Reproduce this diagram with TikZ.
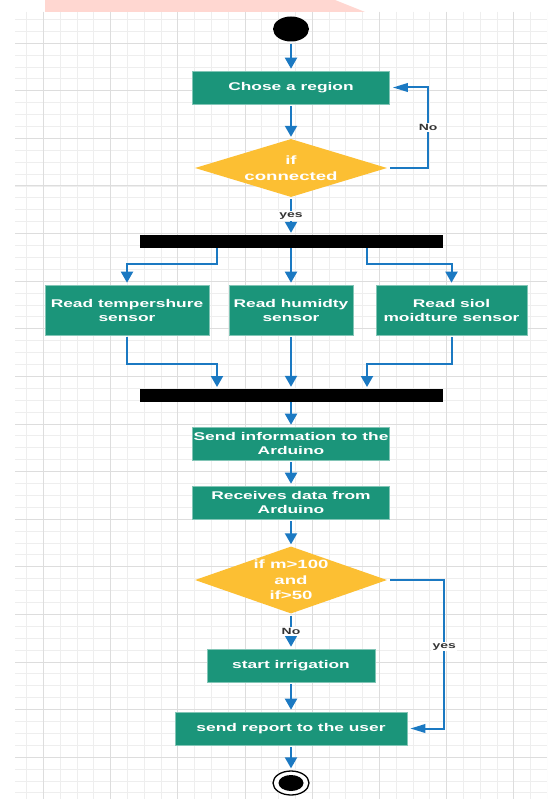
\documentclass[tikz,border=0pt]{standalone}
\usepackage{fontspec}
\newfontfamily\boxfont{Liberation Sans}[FakeStretch=1.55]
\usetikzlibrary{shapes.geometric,arrows.meta}
\definecolor{boxgreen}{HTML}{1B957A}
\definecolor{decyellow}{HTML}{FCBF33}
\definecolor{flowblue}{HTML}{1B79C2}
\definecolor{gridminor}{HTML}{EEEEEE}
\definecolor{gridmajor}{HTML}{DDDDDD}
\definecolor{pinkband}{HTML}{FFD7D1}
\definecolor{labelgray}{HTML}{333333}
\begin{document}
\begin{tikzpicture}[x=1pt,y=-1pt,
  actbox/.style={rectangle, fill=boxgreen, draw=boxgreen!55!white, line width=0.6pt,
    text=white, align=center, font=\boxfont\bfseries\fontsize{11.2}{14}\selectfont,
    inner sep=0pt, minimum height=33pt},
  decision/.style={diamond, fill=decyellow, text=white, align=center,
    font=\boxfont\bfseries\fontsize{12}{15.5}\selectfont, inner sep=0pt},
  syncbar/.style={rectangle, fill=black, minimum width=303pt, minimum height=13pt, inner sep=0pt},
  vflow/.style={draw=flowblue, line width=2pt, -{Triangle[width=12pt,length=11pt]},
    shorten >=2pt, shorten <=2pt},
  hflow/.style={draw=flowblue, line width=2pt, -{Triangle[width=8.5pt,length=15pt]},
    shorten >=3pt, shorten <=3pt},
  lbl/.style={fill=white, text=labelgray, font=\boxfont\bfseries\fontsize{9}{10}\selectfont, inner sep=1.2pt}
]
\useasboundingbox (0,0) rectangle (547,799);
\fill[white] (0,0) rectangle (547,799);
% pink band
\fill[pinkband] (45,0) -- (335,0) -- (365,12) -- (45,12) -- cycle;
% grid
\begin{scope}
  \clip (15,12) rectangle (547,799);
  \foreach \k in {0,...,32} \draw[gridminor, line width=0.9pt] ({9.9+16.8*\k},12) -- ({9.9+16.8*\k},799);
  \foreach \k in {0,...,66} \draw[gridminor, line width=0.9pt] (15,{7.5+11.9*\k}) -- (547,{7.5+11.9*\k});
  \foreach \k in {-1,...,8} \draw[gridmajor, line width=1pt] ({43.5+67.2*\k},12) -- ({43.5+67.2*\k},799);
  \foreach \k in {0,...,16} \draw[gridmajor, line width=1pt] (15,{43.2+47.6*\k}) -- (547,{43.2+47.6*\k});
\end{scope}

% nodes
\node[ellipse, fill=black, minimum width=36pt, minimum height=25pt, inner sep=0pt] (start) at (291,29) {};
\node[actbox, minimum width=197pt] (chose) at (291,87.5) {Chose a region};
\node[decision, shape aspect=3.3, minimum width=192pt, minimum height=58pt] (dec1) at (291,168) {if\\connected};
\node[syncbar] (fork) at (291,241.5) {};
\node[actbox, minimum width=164pt, minimum height=50pt] (temp) at (127,310) {Read tempershure\\sensor};
\node[actbox, minimum width=124pt, minimum height=50pt] (hum) at (291,310) {Read humidty\\sensor};
\node[actbox, minimum width=151pt, minimum height=50pt] (soil) at (451.5,310) {Read siol\\moidture sensor};
\node[syncbar] (join) at (291,395.5) {};
\node[actbox, minimum width=197pt] (send) at (291,443.5) {Send information to the\\Arduino};
\node[actbox, minimum width=197pt] (recv) at (291,502.5) {Receives data from\\Arduino};
\node[decision, shape aspect=2.87, minimum width=192pt, minimum height=67pt] (dec2) at (291,580) {if m>100\\and\\if>50};
\node[actbox, minimum width=168pt] (irr) at (291,665.5) {start irrigation};
\node[actbox, minimum width=232pt] (report) at (291,728.5) {send report to the user};
\node[ellipse, draw=black, line width=1.3pt, fill=white, minimum width=36pt, minimum height=24pt, inner sep=0pt] (end) at (291,783) {};
\node[ellipse, fill=black, minimum width=25pt, minimum height=16pt, inner sep=0pt] (endin) at (end.center) {};

% bend coordinates
\coordinate (forkL) at (217,248);
\coordinate (forkR) at (367,248);
\coordinate (joinL) at (217,389);
\coordinate (joinR) at (367,389);

% connectors
\draw[vflow] (start) -- (chose);
\draw[vflow] (chose) -- (dec1);
\draw[hflow] (dec1.east) -- ++(41,0) |- node[lbl, pos=0.25] {No} (chose.east);
\draw[vflow] (dec1) -- node[lbl] {yes} (fork);
\draw[vflow, shorten <=0pt] (forkL) -- ++(0,16) -| (temp.north);
\draw[vflow, shorten <=0pt] (fork) -- (hum);
\draw[vflow, shorten <=0pt] (forkR) -- ++(0,16) -| (soil.north);
\draw[vflow] (temp.south) -- ++(0,29) -| (joinL);
\draw[vflow] (hum) -- (join);
\draw[vflow] (soil.south) -- ++(0,29) -| (joinR);
\draw[vflow, shorten <=0pt] (join) -- (send);
\draw[vflow] (send) -- (recv);
\draw[vflow] (recv) -- (dec2);
\draw[vflow] (dec2) -- node[lbl] {No} (irr);
\draw[hflow] (dec2.east) -- ++(57,0) |- node[lbl, pos=0.225] {yes} (report.east);
\draw[vflow] (irr) -- (report);
\draw[vflow] (report) -- (end);
\end{tikzpicture}
\end{document}
